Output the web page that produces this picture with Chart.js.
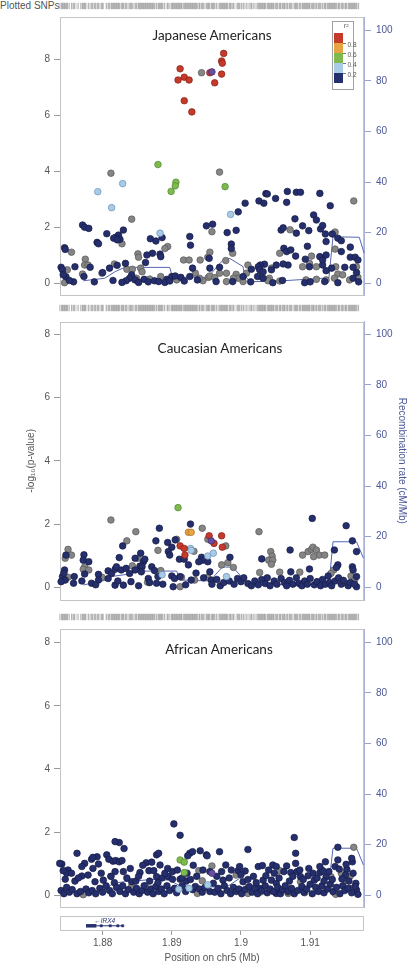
<!DOCTYPE html>
<html><head><meta charset="utf-8">
<script src="https://cdn.jsdelivr.net/npm/chart.js@4.4.1/dist/chart.umd.min.js"></script>
<style>
html,body{margin:0;padding:0;background:#fff;}
#wrap{position:relative;width:409px;height:965px;overflow:hidden;font-family:"Liberation Sans",Arial,sans-serif;}
canvas{position:absolute;left:0;}
.ttl{position:absolute;font-family:Lato,"Open Sans",sans-serif;font-size:13.5px;color:#222;white-space:nowrap;transform:translate(-50%,-50%);}
#snpLbl{position:absolute;left:0;top:0;font-size:10px;line-height:12px;color:#555;}
</style></head><body>
<div id="wrap">
<div id="snpLbl">Plotted SNPs</div>
<canvas id="rug1" width="409" height="12" style="top:0"></canvas>
<canvas id="p1" width="409" height="290" style="top:12px"></canvas>
<canvas id="rug2" width="409" height="12" style="top:302px"></canvas>
<canvas id="p2" width="409" height="294" style="top:314px"></canvas>
<canvas id="rug3" width="409" height="12" style="top:611px"></canvas>
<canvas id="p3" width="409" height="290" style="top:623px"></canvas>
<canvas id="gene" width="409" height="52" style="top:913px"></canvas>
<div class="ttl" style="left:212px;top:35px">Japanese Americans</div>
<div class="ttl" style="left:220px;top:348px">Caucasian Americans</div>
<div class="ttl" style="left:219px;top:649px">African Americans</div>
</div>
<script>
// ---------------- DATA ----------------
const X_MIN = 1.87384, X_MAX = 1.91778;
const xTicks = [1.88, 1.89, 1.90, 1.91];
const xTickLabels = ['1.88', '1.89', '1.9', '1.91'];
const pTicks = [0, 2, 4, 6, 8];
const rTicks = [0, 20, 40, 60, 80, 100];
const ldBreaks = ['0.8', '0.6', '0.4', '0.2'];

// Japanese Americans
const jaIndex = [[1.8958,7.55]];
const jaRed = [[1.8975,8.21],[1.8972,7.94],[1.8973,7.86],[1.8912,7.66],[1.8918,7.36],[1.8909,7.26],[1.8925,7.26],[1.8918,6.52],[1.8929,6.12],[1.8955,7.52],[1.8972,7.47],[1.8962,7.16]];
const jaOrange = [];
const jaGreen = [[1.8880,4.24],[1.8906,3.61],[1.8905,3.48],[1.8899,3.28],[1.8977,3.45]];
const jaLightBlue = [[1.8829,3.56],[1.8793,3.27],[1.8813,2.70],[1.8883,1.79],[1.8985,2.46]];
const jaGray = [[1.8943,7.52],[1.8969,3.97],[1.8812,3.93],[1.8842,2.29],
[1.8828,1.41],[1.8755,1.11],[1.8894,1.31],[1.8890,1.24],[1.8958,1.84],[1.8955,1.11],[1.8941,0.83],[1.8851,1.05],[1.8852,0.93],[1.8817,0.69],[1.8775,0.86],[1.8774,0.65],[1.8779,0.65],[1.8749,0.48],[1.8745,0.02],[1.8771,0.33],[1.8799,0.36],[1.8835,0.50],[1.8843,0.50],[1.8855,0.54],[1.8857,0.41],[1.8849,0.18],[1.8868,0.15],[1.8884,0.24],[1.8907,0.12],[1.8917,0.83],[1.8925,0.83],[1.8934,0.36],[1.8952,0.93],[1.8953,0.21],[1.8945,0.09],[1.8940,0.18],
[1.8988,1.07],[1.9071,1.91],[1.9136,1.83],[1.9163,2.94],[1.9136,1.22],[1.9056,1.07],[1.9102,0.97],[1.9099,0.71],[1.9109,0.59],[1.9089,0.59],[1.9137,0.59],[1.9167,0.59],[1.9140,0.33],[1.9147,0.30],[1.9169,0.21],[1.9157,0.12],[1.9123,0.12],[1.9135,0.18],[1.9109,0.14],[1.9094,0.12],[1.9056,0.08],[1.9041,0.18],[1.9039,0.09],[1.9044,0.54],[1.9010,0.65],[1.9027,0.26],[1.9008,0.36],[1.9003,0.06],[1.8993,0.32],[1.8996,0.18],[1.8989,0.18],[1.8979,0.36],[1.8978,0.81],[1.8969,0.36],[1.8955,0.26],[1.8962,0.20],[1.8979,0.06]];
const jaNavy = [[1.8771,2.08],[1.8774,2.00],[1.8780,1.96],[1.8806,1.77],[1.8830,1.90],[1.8823,1.72],[1.8819,1.64],[1.8816,1.61],[1.8825,1.57],[1.8821,1.55],[1.8792,1.46],[1.8794,1.41],[1.8745,1.27],[1.8746,1.21],[1.8869,1.59],[1.8877,1.51],[1.8886,1.63],[1.8926,1.67],[1.8927,1.36],[1.8950,2.05],[1.8959,2.11],[1.8954,0.89],[1.8955,0.54],[1.8883,1.04],[1.8872,1.07],[1.8864,1.01],[1.8884,0.95],[1.8862,0.74],[1.8833,0.71],[1.8821,0.64],[1.8810,0.54],[1.8800,0.38],[1.8782,0.57],[1.8760,0.59],[1.8740,0.57],[1.8742,0.48],[1.8747,0.23],[1.8758,0.05],[1.8773,0.24],[1.8842,0.30],[1.8839,0.18],[1.8847,0.12],[1.8834,0.09],[1.8860,0.14],[1.8875,0.09],[1.8881,0.06],[1.8893,0.14],[1.8900,0.24],[1.8905,0.26],[1.8913,0.21],[1.8930,0.54],[1.8926,0.24],
[1.8743,0.30],[1.8752,0.10],[1.8788,0.05],[1.8815,0.10],[1.8828,0.03],[1.8852,0.03],[1.8866,0.05],[1.8890,0.03],[1.8897,0.08],[1.8918,0.08],[1.8937,0.12],
[1.8980,1.81],[1.8993,1.89],[1.8986,1.40],[1.8986,1.24],[1.9006,2.86],[1.8996,2.55],[1.9026,2.94],[1.9033,2.86],[1.9036,3.20],[1.9038,3.19],[1.9050,3.03],[1.9066,2.89],[1.9067,3.28],[1.9080,3.25],[1.9086,3.25],[1.9114,3.21],[1.9129,2.77],[1.9105,2.44],[1.9109,2.26],[1.9078,2.30],[1.9089,2.05],[1.9098,1.88],[1.9058,1.90],[1.9061,1.98],[1.9080,1.79],[1.9115,1.94],[1.9118,2.06],[1.9122,1.76],[1.9132,1.76],[1.9140,1.61],[1.9145,1.52],[1.9123,1.49],[1.9158,1.29],[1.9145,1.13],[1.9096,1.32],[1.9062,1.25],[1.9066,1.13],[1.9072,1.19],[1.9079,0.97],[1.9093,0.86],[1.9114,0.95],[1.9118,0.83],[1.9123,1.01],[1.9158,0.93],[1.9165,0.93],[1.9169,0.83],[1.9099,0.59],[1.9068,0.65],[1.9061,0.69],[1.9118,0.65],[1.9131,0.54],[1.9123,0.45],[1.9150,0.57],[1.9162,0.57],[1.9167,0.38],[1.9162,0.18],[1.9121,0.06],[1.9092,0.02],[1.9046,0.02],[1.9044,0.48],[1.9051,0.65],[1.9034,0.68],[1.9028,0.65],[1.9025,0.59],[1.9027,0.48],[1.9032,0.41],[1.9024,0.24],[1.9032,0.18],[1.9015,0.50],[1.9003,0.24],[1.8988,0.06],[1.8969,0.57],[1.8964,0.06],[1.9014,0.05],[1.9060,0.10],[1.9100,0.05],[1.9140,0.02],[1.9170,0.05]];
const jaRecomb = [[1.8772,1.0],[1.8803,2.0],[1.8818,4.6],[1.8832,6.3],[1.8897,6.3],[1.8901,2.4],[1.8952,2.4],[1.8976,9.8],[1.8984,9.8],[1.9003,6.6],[1.9005,3.3],[1.9013,0.6],[1.9060,1.0],[1.9118,2.0],[1.9127,2.0],[1.9133,18.4],[1.9171,18.2],[1.9178,11.9]];

// Caucasian Americans
const caIndex = [[1.8957,1.47]];
const caRed = [[1.8954,1.63],[1.8912,1.31],[1.8918,1.23],[1.8919,1.02],[1.8972,1.63],[1.8961,1.39],[1.8973,1.27]];
const caOrange = [[1.8924,1.74],[1.8928,1.74]];
const caGreen = [[1.8909,2.52]];
const caLightBlue = [[1.8927,1.23],[1.8928,1.17],[1.8952,0.99],[1.8960,1.08],[1.8886,0.40],[1.8979,0.34]];
const caGray = [[1.8812,2.13],[1.8944,1.87],[1.8848,1.76],[1.8907,1.52],[1.8952,1.52],[1.8835,1.47],[1.8932,1.14],[1.8880,1.17],[1.8750,1.20],[1.8746,0.92],[1.8755,1.02],[1.8774,0.65],[1.8772,0.57],[1.8780,0.55],[1.8750,0.32],[1.8799,0.32],[1.8843,0.68],[1.8851,0.92],[1.8884,0.53],[1.8865,0.16],[1.8914,0.32],[1.8912,0.02],[1.8933,0.23],[1.8952,0.32],
[1.8978,1.31],[1.9026,1.76],[1.9043,1.13],[1.9045,0.99],[1.9040,0.86],[1.9046,0.86],[1.9044,0.73],[1.9027,0.47],[1.9056,0.48],[1.9085,0.48],[1.9089,1.02],[1.9097,1.13],[1.9102,1.20],[1.9104,1.27],[1.9109,1.18],[1.9113,1.02],[1.9105,0.97],[1.9121,1.02],[1.8981,0.78],[1.8989,0.63],[1.8972,0.71],[1.9134,0.55],[1.9130,0.44],[1.9159,0.36],[1.9164,0.23],[1.9152,0.13]];
const caNavy = [[1.8927,2.00],[1.8882,1.87],[1.8877,1.47],[1.8894,1.42],[1.8905,1.50],[1.8829,1.31],[1.8900,1.27],[1.8895,1.13],[1.8897,1.02],[1.8911,0.89],[1.8918,0.89],[1.8924,0.71],[1.8943,0.95],[1.8945,0.86],[1.8952,0.81],[1.8939,0.81],[1.8747,1.02],[1.8773,1.03],[1.8772,0.86],[1.8780,0.81],[1.8745,0.55],[1.8742,0.34],[1.8746,0.23],[1.8740,0.18],[1.8759,0.34],[1.8758,0.13],[1.8794,0.41],[1.8794,0.23],[1.8784,0.13],[1.8774,0.42],[1.8808,0.52],[1.8813,0.44],[1.8818,0.57],[1.8820,0.65],[1.8827,0.55],[1.8834,0.60],[1.8824,0.94],[1.8808,0.28],[1.8818,0.07],[1.8830,0.07],[1.8841,0.18],[1.8847,0.92],[1.8855,1.08],[1.8859,0.81],[1.8861,0.89],[1.8854,0.67],[1.8857,0.65],[1.8847,0.55],[1.8839,0.44],[1.8856,0.49],[1.8871,0.65],[1.8875,0.53],[1.8880,0.34],[1.8866,0.28],[1.8868,0.15],[1.8878,0.13],[1.8900,0.36],[1.8904,0.28],[1.8912,0.34],[1.8902,0.02],[1.8928,0.23],[1.8957,0.23],
[1.8744,0.45],[1.8770,0.20],[1.8790,0.08],[1.8822,0.20],[1.8852,0.05],[1.8887,0.10],[1.8920,0.08],[1.8935,0.45],[1.8946,0.30],
[1.9103,2.18],[1.9152,1.95],[1.9071,1.18],[1.9030,0.90],[1.9072,0.49],[1.9099,0.58],[1.9135,1.18],[1.9161,1.47],[1.9167,1.13],[1.9140,0.71],[1.9138,0.63],[1.9126,0.36],[1.9161,0.65],[1.9162,0.55],[1.9167,0.34],[1.9167,0.02],[1.8984,0.95],[1.8955,0.49],
[1.8958,0.10],[1.8965,0.25],[1.8970,0.05],[1.8975,0.15],[1.8983,0.20],[1.8990,0.10],[1.8995,0.28],[1.9000,0.18],[1.9004,0.30],[1.9010,0.12],[1.9015,0.05],[1.9020,0.20],[1.9025,0.08],[1.9030,0.25],[1.9035,0.12],[1.9038,0.30],[1.9042,0.05],[1.9048,0.20],[1.9052,0.10],[1.9058,0.28],[1.9063,0.15],[1.9066,0.05],[1.9070,0.22],[1.9075,0.10],[1.9080,0.30],[1.9084,0.12],[1.9088,0.05],[1.9092,0.20],[1.9096,0.10],[1.9100,0.28],[1.9106,0.08],[1.9110,0.18],[1.9115,0.05],[1.9118,0.25],[1.9122,0.10],[1.9128,0.15],[1.9131,0.05],[1.9136,0.20],[1.9141,0.30],[1.9145,0.10],[1.9148,0.22],[1.9155,0.05],[1.9158,0.15],[1.9164,0.10]];
const caRecomb = [[1.8772,0.9],[1.8806,2.9],[1.8811,4.2],[1.8835,5.1],[1.8854,6.4],[1.8907,6.4],[1.8912,2.9],[1.8955,2.5],[1.8973,8.0],[1.8988,8.0],[1.9003,3.5],[1.9010,0.9],[1.9121,1.2],[1.9128,3.5],[1.9133,18.0],[1.9167,18.0],[1.9177,11.5]];

// African Americans
const afIndex = [[1.8958,0.70]];
const afRed = [];
const afOrange = [];
const afGreen = [[1.8912,1.12],[1.8918,1.05],[1.8918,0.72]];
const afLightBlue = [[1.8910,0.19],[1.8925,0.22],[1.8952,0.33]];
const afGray = [[1.8812,0.60],[1.8862,0.30],[1.8842,0.29],[1.8937,0.06],[1.8939,0.78],[1.8958,0.93],[1.8944,0.46],[1.9010,0.06],[1.9056,0.78],[1.9068,0.06],[1.9092,0.08],[1.9135,0.08],[1.9145,0.70],[1.9158,0.61],[1.8993,0.64],[1.9163,1.52],[1.9086,0.43],[1.9130,0.59],[1.9152,0.46],[1.9159,0.22],[1.9137,0.03],[1.9029,0.11],[1.9070,0.08],[1.8772,0.02]];
const afNavy = [[1.8903,2.26],[1.8912,1.90],[1.8824,1.67],[1.8831,1.48],[1.8806,1.28],[1.8809,1.14],[1.8815,1.08],[1.8819,1.10],[1.8824,1.06],[1.8828,1.10],[1.8792,1.22],[1.8784,1.14],[1.8794,0.99],[1.8774,1.01],[1.8741,0.99],[1.8750,0.80],[1.8748,0.70],[1.8770,0.61],[1.8779,0.64],[1.8818,0.75],[1.8830,0.75],[1.8746,0.51],[1.8760,0.45],[1.8789,0.43],[1.8801,0.48],[1.8817,0.40],[1.8842,0.43],[1.8854,0.72],[1.8863,1.03],[1.8867,0.78],[1.8874,0.78],[1.8878,1.28],[1.8881,1.33],[1.8883,0.96],[1.8878,0.59],[1.8886,0.55],[1.8895,0.59],[1.8901,0.75],[1.8901,0.51],[1.8912,0.51],[1.8921,0.45],[1.8927,0.50],[1.8926,1.33],[1.8930,1.38],[1.8923,1.25],[1.8941,1.41],[1.8950,1.28],[1.8955,0.75],[1.8951,1.25],[1.8738,1.01],
[1.8763,1.33],[1.8786,1.20],[1.8770,0.91],[1.8743,0.78],[1.8818,1.70],
[1.8740,0.15],[1.8744,0.05],[1.8748,0.25],[1.8752,0.10],[1.8756,0.18],[1.8763,0.05],[1.8768,0.12],[1.8776,0.20],[1.8780,0.08],[1.8785,0.15],[1.8790,0.05],[1.8796,0.22],[1.8800,0.10],[1.8805,0.30],[1.8810,0.15],[1.8814,0.05],[1.8820,0.25],[1.8825,0.12],[1.8829,0.30],[1.8833,0.05],[1.8837,0.18],[1.8845,0.10],[1.8849,0.22],[1.8853,0.05],[1.8857,0.15],[1.8860,0.30],[1.8865,0.10],[1.8870,0.20],[1.8873,0.05],[1.8877,0.28],[1.8881,0.12],[1.8885,0.20],[1.8889,0.05],[1.8893,0.30],[1.8897,0.15],[1.8904,0.22],[1.8907,0.08],[1.8915,0.30],[1.8920,0.12],[1.8930,0.18],[1.8934,0.28],[1.8940,0.20],[1.8944,0.10],[1.8948,0.25],[1.8955,0.12],
[1.8755,0.70],[1.8765,0.55],[1.8786,0.85],[1.8798,0.70],[1.8812,0.60],[1.8835,0.55],[1.8840,0.85],[1.8848,0.45],[1.8852,0.60],[1.8858,0.95],[1.8868,0.45],[1.8871,1.05],[1.8880,0.40],[1.8890,0.70],[1.8894,0.85],[1.8908,0.80],[1.8915,0.55],[1.8922,0.70],[1.8931,0.95],[1.8936,0.60],[1.8945,0.80],
[1.9010,1.45],[1.9077,1.83],[1.9079,1.33],[1.9079,1.01],[1.9140,1.52],[1.8969,1.38],[1.9122,1.06],[1.9136,0.91],[1.8978,0.96],[1.8986,0.80],[1.8996,0.78],[1.9003,0.43],[1.9006,0.77],[1.9025,0.91],[1.9031,0.94],[1.9046,0.96],[1.9051,0.91],[1.9066,0.93],[1.9062,0.75],[1.9072,0.72],[1.9081,0.75],[1.9086,0.59],[1.9098,0.85],[1.9104,0.70],[1.9114,0.72],[1.9118,0.78],[1.9123,0.59],[1.9142,0.83],[1.9153,0.82],[1.9151,0.64],[1.9161,1.06],[1.9160,1.17],[1.9162,0.70],[1.9166,0.38],[1.9167,0.17],[1.9169,0.03],[1.8972,0.75],[1.8974,0.48],[1.8960,0.38],[1.9032,0.48],[1.9044,0.48],[1.9051,0.38],[1.9027,0.22],[1.9051,0.06],
[1.9114,0.91],[1.9140,1.12],[1.9152,0.98],[1.9040,0.80],[1.8998,0.91],
[1.8962,0.10],[1.8967,0.22],[1.8971,0.05],[1.8976,0.30],[1.8980,0.15],[1.8985,0.05],[1.8989,0.25],[1.8993,0.12],[1.8997,0.20],[1.9001,0.05],[1.9006,0.18],[1.9012,0.28],[1.9016,0.10],[1.9020,0.22],[1.9024,0.05],[1.9030,0.15],[1.9035,0.30],[1.9038,0.08],[1.9042,0.20],[1.9047,0.12],[1.9053,0.25],[1.9057,0.05],[1.9060,0.18],[1.9064,0.30],[1.9068,0.12],[1.9073,0.22],[1.9077,0.05],[1.9082,0.15],[1.9088,0.28],[1.9091,0.10],[1.9095,0.20],[1.9100,0.35],[1.9103,0.05],[1.9108,0.25],[1.9112,0.12],[1.9117,0.30],[1.9120,0.08],[1.9125,0.20],[1.9129,0.35],[1.9133,0.12],[1.9138,0.25],[1.9143,0.05],[1.9147,0.30],[1.9150,0.15],[1.9155,0.22],[1.9160,0.08],[1.9165,0.28],
[1.8965,0.60],[1.8983,0.55],[1.9000,0.65],[1.9010,0.50],[1.9018,0.60],[1.9022,0.40],[1.9036,0.62],[1.9048,0.70],[1.9055,0.55],[1.9070,0.45],[1.9075,0.60],[1.9085,0.80],[1.9090,0.50],[1.9097,0.62],[1.9106,0.48],[1.9110,0.55],[1.9120,0.45],[1.9127,0.75],[1.9132,0.50],[1.9146,0.52],[1.9156,0.45]];
const afRecomb = [[1.8772,0.8],[1.8803,2.1],[1.8815,4.7],[1.8832,5.4],[1.8875,6.3],[1.8897,6.0],[1.8909,4.1],[1.8933,3.2],[1.8980,3.4],[1.8998,6.7],[1.9005,6.0],[1.9008,0.8],[1.9099,1.4],[1.9126,2.1],[1.9133,18.6],[1.9167,18.6],[1.9177,12.0]];

// Gene track (IRX4)
const geneName = 'IRX4';
const geneSpan = [1.8776, 1.8830];
const geneBigExon = [1.8776, 1.8791];
const geneSmallExons = [1.8798, 1.8811, 1.8822, 1.8829];

// ---------------- STYLE ----------------
Chart.defaults.font.family = '"Liberation Sans", Arial, sans-serif';
Chart.defaults.font.size = 10;
const FILL = {idx:'#6a4e9f', red:'#c63a2c', orange:'#e8a343', green:'#7fba4f', lb:'#a8cbe7', gray:'#858585', navy:'#262f6e'};
const EDGE = {idx:'#3f2a6e', red:'#842016', orange:'#a6702a', green:'#4e8a2f', lb:'#6b8fb3', gray:'#585858', navy:'#161b44'};
const BLUE_AXIS = '#4b5797';
const toPts = a => a.map(p => ({x:p[0], y:p[1]}));

const framePlugin = {
  id:'frame',
  beforeDatasetsDraw(chart){
    const {left, top, right, bottom} = chart.chartArea;
    const ctx = chart.ctx; ctx.save();
    ctx.strokeStyle = '#c4c4c4'; ctx.lineWidth = 1;
    ctx.strokeRect(Math.round(left)+0.5, Math.round(top)+0.5, Math.round(right-left)-1, Math.round(bottom-top));
    ctx.restore();
  }
};
const legendPlugin = {
  id:'ldLegend',
  afterDraw(chart, args, opts){
    if (!opts.show) return;
    const ctx = chart.ctx, oy = opts.offsetY;
    ctx.save();
    ctx.fillStyle = 'rgba(255,255,255,0.9)'; ctx.strokeStyle = '#a0a0a0'; ctx.lineWidth = 1;
    ctx.fillRect(332.5, 21.5-oy, 21, 68); ctx.strokeRect(332.5, 21.5-oy, 21, 68);
    const cols = [FILL.red, FILL.orange, FILL.green, FILL.lb, FILL.navy];
    cols.forEach((c,i) => { ctx.fillStyle = c; ctx.fillRect(334, 33+10*i-oy, 9, 10); });
    ctx.fillStyle = '#555'; ctx.strokeStyle = '#777';
    ctx.font = '6.5px "Liberation Sans", Arial, sans-serif'; ctx.textBaseline = 'middle'; ctx.textAlign = 'left';
    ldBreaks.forEach((t,i) => {
      const y = 43+10*i-oy+0.5;
      ctx.beginPath(); ctx.moveTo(343, y); ctx.lineTo(346, y); ctx.stroke();
      ctx.fillText(t, 347.5, y+1.5);
    });
    ctx.font = 'italic 7px "Liberation Sans", Arial, sans-serif'; ctx.textAlign = 'center';
    ctx.fillText('r²', 346, 26-oy);
    ctx.restore();
  }
};
const geneLabelPlugin = {
  id:'geneLabel',
  afterDatasetsDraw(chart){
    const ctx = chart.ctx, xs = chart.scales.x, ys = chart.scales.y;
    const x = xs.getPixelForValue((geneSpan[0]+geneSpan[1])/2), y = ys.getPixelForValue(0.66);
    ctx.save(); ctx.fillStyle = '#26306e';
    ctx.font = 'italic 6.5px "Liberation Sans", Arial, sans-serif';
    ctx.textAlign = 'center'; ctx.textBaseline = 'middle';
    ctx.fillText('\u2190' + geneName, x, y);
    ctx.restore();
  }
};

function ptDs(arr, key, order){
  return {data:toPts(arr), pointBackgroundColor:FILL[key], pointBorderColor:EDGE[key], backgroundColor:FILL[key], borderColor:EDGE[key],
    pointBorderWidth:0.7, pointRadius:3.3, pointHoverRadius:3.3, order:order, clip:6, yAxisID:'y'};
}
function lineDs(arr){
  return {data:toPts(arr), showLine:true, borderColor:'#5666b2', borderWidth:1, pointRadius:0, pointHoverRadius:0, yAxisID:'y2', order:20, clip:2};
}

function panel(id, o){
  return new Chart(document.getElementById(id), {
    type:'scatter',
    data:{datasets:[
      ptDs(o.index,'idx',0), ptDs(o.red,'red',1), ptDs(o.orange,'orange',2), ptDs(o.green,'green',3),
      ptDs(o.lb,'lb',4), ptDs(o.gray,'gray',6), ptDs(o.navy,'navy',5), lineDs(o.recomb)
    ]},
    options:{
      responsive:false, animation:false, events:[],
      layout:{padding:{left:0, right:0, top:o.padTop, bottom:o.padBottom}, autoPadding:false},
      plugins:{legend:{display:false}, tooltip:{enabled:false}, ldLegend:{show:!!o.legend, offsetY:o.top}},
      scales:{
        x:{type:'linear', display:false, min:X_MIN, max:X_MAX},
        y:{type:'linear', position:'left', min:o.yMin, max:o.yMax,
          afterFit:a => { a.width = 60; a.paddingTop = 0; a.paddingBottom = 0; },
          afterBuildTicks:a => { a.ticks = pTicks.map(v => ({value:v})); },
          grid:{drawOnChartArea:false, drawTicks:true, tickLength:6, color:'#9a9a9a'},
          border:{display:false},
          ticks:{color:'#555', padding:4, font:{size:10}},
          title:{display:!!o.axisTitles, text:'-log\u2081\u2080(p-value)', color:'#555', font:{size:10}, padding:{top:25, bottom:0}}},
        y2:{type:'linear', position:'right', min:o.rMin, max:o.rMax,
          afterFit:a => { a.width = 45; a.paddingTop = 0; a.paddingBottom = 0; },
          afterBuildTicks:a => { a.ticks = rTicks.map(v => ({value:v})); },
          grid:{drawOnChartArea:false, drawTicks:true, tickLength:7, color:'#9aa3cc'},
          border:{display:true, color:'#aab2d6', width:1},
          ticks:{color:BLUE_AXIS, padding:5, font:{size:10}},
          title:{display:!!o.axisTitles, text:'Recombination rate (cM/Mb)', color:BLUE_AXIS, font:{size:10}, padding:{top:1.3, bottom:0}}}
      }
    },
    plugins:[framePlugin, legendPlugin]
  });
}

panel('p1', {index:jaIndex, red:jaRed, orange:jaOrange, green:jaGreen, lb:jaLightBlue, gray:jaGray, navy:jaNavy, recomb:jaRecomb,
  top:12, padTop:5, padBottom:6.7, yMin:-0.43, yMax:9.51, rMin:-4.74, rMax:105.3, legend:true});
panel('p2', {index:caIndex, red:caRed, orange:caOrange, green:caGreen, lb:caLightBlue, gray:caGray, navy:caNavy, recomb:caRecomb,
  top:314, padTop:7.7, padBottom:8, yMin:-0.40, yMax:8.40, rMin:-5.02, rMax:104.98, axisTitles:true});
panel('p3', {index:afIndex, red:afRed, orange:afOrange, green:afGreen, lb:afLightBlue, gray:afGray, navy:afNavy, recomb:afRecomb,
  top:623, padTop:6.3, padBottom:6, yMin:-0.37, yMax:8.42, rMin:-4.62, rMax:105.1});

// SNP rugs (positions of all plotted SNPs)
const allSets = [jaIndex,jaRed,jaGreen,jaLightBlue,jaGray,jaNavy,caIndex,caRed,caOrange,caGreen,caLightBlue,caGray,caNavy,afIndex,afGreen,afLightBlue,afGray,afNavy];
const snpPositions = [...new Set(allSets.flat().map(p => p[0].toFixed(4)))].map(Number);
function rug(id){
  return new Chart(document.getElementById(id), {
    type:'scatter',
    data:{datasets:[{data:snpPositions.map(x => ({x:x, y:0.5})), pointStyle:'line', pointRotation:90, pointRadius:3.2,
      pointBorderWidth:0.6, pointBorderColor:'rgba(50,50,50,0.5)', borderColor:'rgba(50,50,50,0.5)', clip:false}]},
    options:{responsive:false, animation:false, events:[],
      layout:{padding:{left:60, right:45, top:0, bottom:0}, autoPadding:false},
      plugins:{legend:{display:false}, tooltip:{enabled:false}},
      scales:{x:{type:'linear', display:false, min:X_MIN, max:X_MAX}, y:{display:false, min:0, max:1}}}
  });
}
rug('rug1'); rug('rug2'); rug('rug3');

// gene track + x axis
new Chart(document.getElementById('gene'), {
  type:'scatter',
  data:{datasets:[
    {data:geneSmallExons.map(x => ({x:x, y:0.3})), pointStyle:'rect', pointRadius:1.6, pointBackgroundColor:'#26306e', pointBorderColor:'#26306e', pointBorderWidth:0.5, order:0},
    {data:[{x:geneBigExon[0], y:0.3},{x:geneBigExon[1], y:0.3}], showLine:true, borderColor:'#26306e', borderWidth:3.5, pointRadius:0, borderCapStyle:'butt', order:1},
    {data:[{x:geneSpan[0], y:0.3},{x:geneSpan[1], y:0.3}], showLine:true, borderColor:'#26306e', borderWidth:1, pointRadius:0, order:2}
  ]},
  options:{responsive:false, animation:false, events:[],
    layout:{padding:{left:0, right:45, top:3, bottom:0}, autoPadding:false},
    plugins:{legend:{display:false}, tooltip:{enabled:false}},
    scales:{
      x:{type:'linear', position:'bottom', min:X_MIN, max:X_MAX,
        afterFit:a => { a.height = 35; a.paddingLeft = 0; a.paddingRight = 0; },
        afterBuildTicks:a => { a.ticks = xTicks.map(v => ({value:v})); },
        grid:{drawOnChartArea:false, drawTicks:true, tickLength:5, color:'#9a9a9a'},
        border:{display:false},
        ticks:{color:'#555', padding:2, font:{size:10}, maxRotation:0, autoSkip:false, callback:(v,i) => xTickLabels[i]},
        title:{display:true, text:'Position on chr5 (Mb)', color:'#555', font:{size:10}, padding:{top:0, bottom:1}}},
      y:{display:false, min:0, max:1, afterFit:a => { a.width = 60; }}
    }
  },
  plugins:[framePlugin, geneLabelPlugin]
});
</script>
</body></html>
